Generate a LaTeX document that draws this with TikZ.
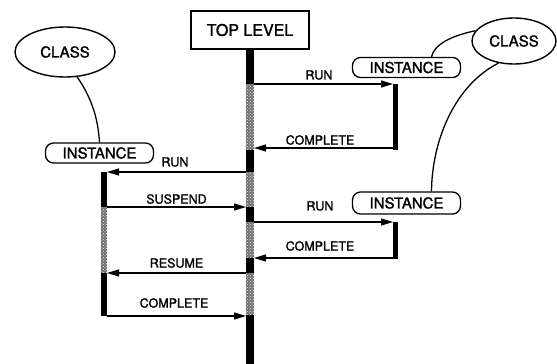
\documentclass[tikz,border=0pt]{standalone}
\usepackage{fontspec}
\setmainfont{TeX Gyre Heros}[FakeBold=1.5,AutoFakeBold=1.5]
\usetikzlibrary{arrows.meta,patterns,shapes.geometric}
\begin{document}
\begin{tikzpicture}[x=1pt,y=-1pt,
  bigtext/.style={font=\fontsize{15}{15}\selectfont\bfseries},
  lbl/.style={font=\fontsize{12.5}{13}\selectfont\bfseries, inner sep=0pt},
  classnode/.style={draw, line width=1.4pt, ellipse, inner sep=0pt, bigtext},
  instnode/.style={draw, line width=1.3pt, rounded corners=8pt, inner sep=0pt,
    minimum width=108pt, minimum height=20pt, bigtext},
  topnode/.style={draw, line width=1.5pt, inner sep=0pt, minimum width=118pt,
    minimum height=38pt, font=\fontsize{16}{16}\selectfont\bfseries},
  active/.style={fill=black},
  idle/.style={fill=black!55, postaction={pattern=crosshatch dots, pattern color=white!80!gray}},
  msg/.style={line width=1.2pt, -{Triangle[length=12pt,width=7pt]}},
  link/.style={line width=1.3pt},
]
\useasboundingbox[fill=white] (0,0) rectangle (557,364);

% ---- top level process and its lifeline ----
\node[topnode] (top) at (250,30) {TOP LEVEL};
\fill[active] (246,49)  rectangle (254,84);
\fill[idle]   (246,84)  rectangle (254,150);
\fill[active] (246,150) rectangle (254,172);
\fill[idle]   (246,172) rectangle (254,207);
\fill[active] (246,207) rectangle (254,222);
\fill[idle]   (246,222) rectangle (254,258);
\fill[active] (246,258) rectangle (254,273);
\fill[idle]   (246,273) rectangle (254,315);
\fill[active] (246,315) rectangle (254,364);

% ---- left class and instance ----
\node[classnode, minimum width=100pt, minimum height=50pt] (lclass) at (65,52) {CLASS};
\node[instnode] (linst) at (99.5,153) {INSTANCE};
\draw[link] (lclass.-64) .. controls (93,100) and (98,120) .. (linst.north);

\fill[active] (101,172) rectangle (107,207);
\fill[idle]   (101,207) rectangle (107,273);
\fill[active] (101,273) rectangle (107,316);

% ---- right class and its two instances ----
\node[classnode, minimum width=84pt, minimum height=46pt] (rclass) at (514,41) {CLASS};
\node[instnode] (rinst1) at (406.5,67.5) {INSTANCE};
\node[instnode, minimum height=22pt] (rinst2) at (406.5,203) {INSTANCE};
\draw[link] (rclass.165) .. controls (450,36) and (434,45) .. ([xshift=25pt]rinst1.north);
\draw[link] (rclass.-125) .. controls (455,85) and (432,140) .. ([xshift=25pt]rinst2.north);

\fill[active] (393,84)  rectangle (398,150);
\fill[active] (393,222) rectangle (398,259);

% ---- message endpoints on the lifelines ----
\coordinate (mR1) at (254,84);   \coordinate (iR1) at (393,84);
\coordinate (iR1b) at (393,148); \coordinate (mR1b) at (254,148);
\coordinate (mL1) at (246,172);  \coordinate (iL1) at (107,172);
\coordinate (iL2) at (107,207);  \coordinate (mL2) at (246,207);
\coordinate (mR2) at (254,222);  \coordinate (iR2) at (393,222);
\coordinate (iR2b) at (393,258); \coordinate (mR2b) at (254,258);
\coordinate (mL3) at (246,273);  \coordinate (iL3) at (107,273);
\coordinate (iL4) at (107,316);  \coordinate (mL4) at (246,316);

% ---- messages ----
\draw[msg] (mR1) -- (iR1);
\draw[msg] (iR1b) -- (mR1b);
\draw[msg] (mL1) -- (iL1);
\draw[msg] (iL2) -- (mL2);
\draw[msg] (mR2) -- (iR2);
\draw[msg] (iR2b) -- (mR2b);
\draw[msg] (mL3) -- (iL3);
\draw[msg] (iL4) -- (mL4);

% ---- message labels ----
\node[lbl] (tRun1) at (319,75) {RUN};
\node[lbl] (tCmp1) at (320,140) {COMPLETE};
\node[lbl] (tRun2) at (175,162) {RUN};
\node[lbl] (tSus)  at (176.5,199) {SUSPEND};
\node[lbl] (tRun3) at (320,206) {RUN};
\node[lbl] (tCmp2) at (320,246) {COMPLETE};
\node[lbl] (tRes)  at (176.5,263) {RESUME};
\node[lbl] (tCmp3) at (174,303) {COMPLETE};
\end{tikzpicture}
\end{document}
